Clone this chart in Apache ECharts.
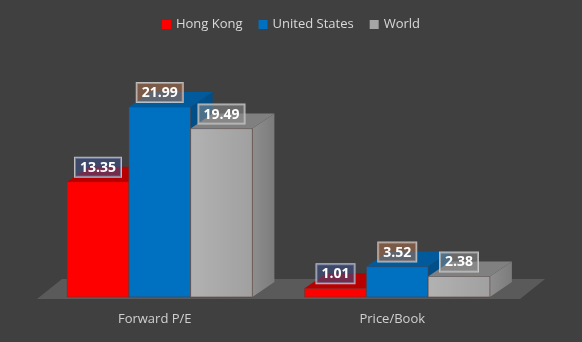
<!DOCTYPE html>
<html>
<head>
<meta charset="utf-8">
<script src="https://cdn.jsdelivr.net/npm/echarts@6/dist/echarts.min.js"></script>
<style>
html,body{margin:0;padding:0;background:#404040;}
#c{width:582px;height:342px;}
</style>
</head>
<body>
<div id="c"></div>
<script>
const categories = ['Forward P/E', 'Price/Book'];
const seriesNames = ['Hong Kong', 'United States', 'World'];
const hongKong = [13.35, 1.01];
const unitedStates = [21.99, 3.52];
const world = [19.49, 2.38];

const seriesValues = [hongKong, unitedStates, world];
const palette = [
  {front: '#ff0000', top: '#b80000', side: '#a00000', label: 'rgba(60,80,140,0.55)'},
  {front: '#0070c0', top: '#005a9c', side: '#004f88', label: 'rgba(171,111,77,0.55)'},
  {front: {type:'linear',x:0,y:0,x2:1,y2:0,colorStops:[{offset:0,color:'#b2b2b2'},{offset:1,color:'#a0a0a0'}]}, top: '#808080', side: {type:'linear',x:0,y:0,x2:1,y2:0,colorStops:[{offset:0,color:'#8e8e8e'},{offset:1,color:'#7c7c7c'}]}, label: 'rgba(140,140,140,0.55)'}
];
const legendColors = ['#ff0000', '#0070c0', '#a6a6a6'];
const DX = 22, DY = -15;

function makeBarSeries(idx) {
  return {
    type: 'custom',
    name: seriesNames[idx],
    itemStyle: {color: legendColors[idx]},
    data: categories.map((c, i) => [i, seriesValues[idx][i]]),
    renderItem: function (params, api) {
      const cat = api.value(0), val = api.value(1);
      const base = api.coord([cat, 0]);
      const top = api.coord([cat, val]);
      const bandW = api.size([1, 0])[0];
      const barW = bandW * 0.26;
      const x0 = base[0] - 1.5 * barW + idx * barW;
      const x1 = x0 + barW;
      const yb = base[1], yt = top[1];
      const p = palette[idx];
      return {
        type: 'group',
        children: [
          {type: 'polygon', shape: {points: [[x1, yt], [x1 + DX, yt + DY], [x1 + DX, yb + DY], [x1, yb]]}, style: {fill: p.side}},
          {type: 'rect', shape: {x: x0, y: yt, width: barW, height: yb - yt}, style: {fill: p.front, stroke: 'rgba(90,60,50,0.7)', lineWidth: 0.8}},
          {type: 'polygon', shape: {points: [[x0, yt], [x1, yt], [x1 + DX, yt + DY], [x0 + DX, yt + DY]]}, style: {fill: p.top}},
          {type: 'text', z2: 100, style: {
            text: val.toFixed(2), x: x0 + barW / 2, y: yt - 5, align: 'center', verticalAlign: 'bottom',
            fill: '#ffffff', font: 'bold 14px "Open Sans", sans-serif',
            backgroundColor: p.label, borderColor: 'rgba(210,210,210,0.85)', borderWidth: 1, padding: [3, 5, 2, 5]
          }}
        ]
      };
    }
  };
}

const floorSeries = {
  type: 'custom',
  name: 'floor',
  silent: true,
  z: 1,
  data: [[0, 0]],
  renderItem: function (params, api) {
    const cs = params.coordSys;
    const base = api.coord([0, 0]);
    const yf = base[1] + 2;
    const xl = cs.x - 4, xr = cs.x + cs.width + 4;
    return {
      type: 'polygon',
      shape: {points: [[xl, yf], [xr, yf], [xr + 25, yf - 20], [xl + 25, yf - 20]]},
      style: {fill: '#5a5a5a'}
    };
  }
};

const chart = echarts.init(document.getElementById('c'));
chart.setOption({
  backgroundColor: '#404040',
  animation: false,
  legend: {
    data: seriesNames,
    top: 13,
    left: 'center',
    icon: 'rect',
    itemWidth: 9,
    itemHeight: 9,
    itemGap: 16,
    textStyle: {color: '#d9d9d9', fontSize: 13, fontFamily: '"Open Sans", sans-serif'}
  },
  grid: {left: 41, right: 66, top: 81, bottom: 45},
  xAxis: {
    type: 'category',
    data: categories,
    axisLine: {show: false},
    axisTick: {show: false},
    axisLabel: {color: '#d0d0d0', fontSize: 13, fontFamily: '"Open Sans", sans-serif', margin: 16, padding: [0, 10, 0, 0]}
  },
  yAxis: {type: 'value', min: 0, max: 25, show: false, splitLine: {show: false}},
  series: [floorSeries, makeBarSeries(0), makeBarSeries(1), makeBarSeries(2)]
});
</script>
</body>
</html>
